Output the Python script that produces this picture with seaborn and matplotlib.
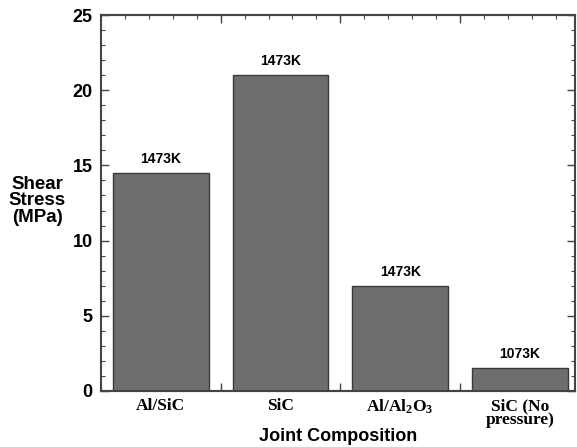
import numpy as np
import pandas as pd
import matplotlib
matplotlib.use('Agg')
import matplotlib.pyplot as plt
from matplotlib.ticker import MultipleLocator, FixedLocator
import seaborn as sns

sns.set_theme(style="white")
plt.rcParams['font.family'] = ['Liberation Sans', 'DejaVu Sans']
plt.rcParams['text.color'] = 'black'
plt.rcParams['xtick.labelcolor'] = 'black'
plt.rcParams['ytick.labelcolor'] = 'black'
plt.rcParams['axes.labelcolor'] = 'black'
plt.rcParams['mathtext.fontset'] = 'custom'
plt.rcParams['mathtext.rm'] = 'Liberation Serif:bold'
plt.rcParams['mathtext.it'] = 'Liberation Serif:bold'
plt.rcParams['mathtext.bf'] = 'Liberation Serif:bold'

# data
categories = ['Al/SiC', 'SiC', r'Al/Al$_2$O$_3$', 'SiC (No\npressure)']
shear_stress = [14.5, 21.0, 7.0, 1.5]
temp_labels = ['1473K', '1473K', '1473K', '1073K']

df = pd.DataFrame({'joint': categories, 'stress': shear_stress})

fig = plt.figure(figsize=(5.77, 4.47), dpi=100)
ax = fig.add_axes([0.175, 0.1253, 0.8215, 0.8411])

sns.barplot(data=df, x='joint', y='stress', color='#6e6e6e', saturation=1,
            edgecolor='#3a3a3a', linewidth=1.0, width=0.8, ax=ax)

ax.bar_label(ax.containers[0], labels=temp_labels, padding=5,
             fontsize=10, fontweight='bold', color='black')

ax.set_xlim(-0.5, 3.46)
ax.set_ylim(0, 25)

spine_col = '#444444'
for s in ax.spines.values():
    s.set_visible(True)
    s.set_color(spine_col)
    s.set_linewidth(1.5)

# y ticks
ax.yaxis.set_major_locator(MultipleLocator(5))
ax.yaxis.set_minor_locator(MultipleLocator(1))
ax.tick_params(axis='y', which='major', direction='in', length=6, width=1,
               color=spine_col, left=True, right=True, labelsize=13, pad=6)
ax.tick_params(axis='y', which='minor', direction='in', length=3, width=0.8,
               color=spine_col, left=True, right=True)
for t in ax.get_yticklabels():
    t.set_fontweight('bold')

# x ticks: labels at categories, minor marks every 0.2
ax.xaxis.set_minor_locator(MultipleLocator(0.2, offset=0.1))
ax.tick_params(axis='x', which='major', length=0, pad=5)
ax.tick_params(axis='x', which='minor', direction='in', length=3, width=0.8,
               color=spine_col, bottom=True, top=True)
for t in ax.get_xticklabels():
    t.set_fontfamily(['Liberation Serif', 'DejaVu Serif'])
    t.set_fontweight('bold')
    t.set_fontsize(12.5)
    t.set_linespacing(0.88)
    t.set_verticalalignment('top')

# longer marks between the bars, top and bottom
for side in ['bottom', 'top']:
    sec = ax.secondary_xaxis(side)
    sec.xaxis.set_major_locator(FixedLocator([0.5, 1.5, 2.5]))
    sec.tick_params(direction='in', length=6, width=1, color=spine_col,
                    labelbottom=False, labeltop=False)
    sec.spines[side].set_color(spine_col)
    sec.spines[side].set_linewidth(1.5)

ax.set_xlabel('Joint Composition', fontsize=13, fontweight='bold', va='center')
ax.xaxis.set_label_coords(0.5, -0.121)
ax.set_ylabel('Shear\nStress\n(MPa)', fontsize=13.5, fontweight='bold',
              rotation=0, ha='center', va='center', linespacing=0.98)
ax.yaxis.set_label_coords(-0.134, 0.506)

fig.savefig('out.png', dpi=100)
